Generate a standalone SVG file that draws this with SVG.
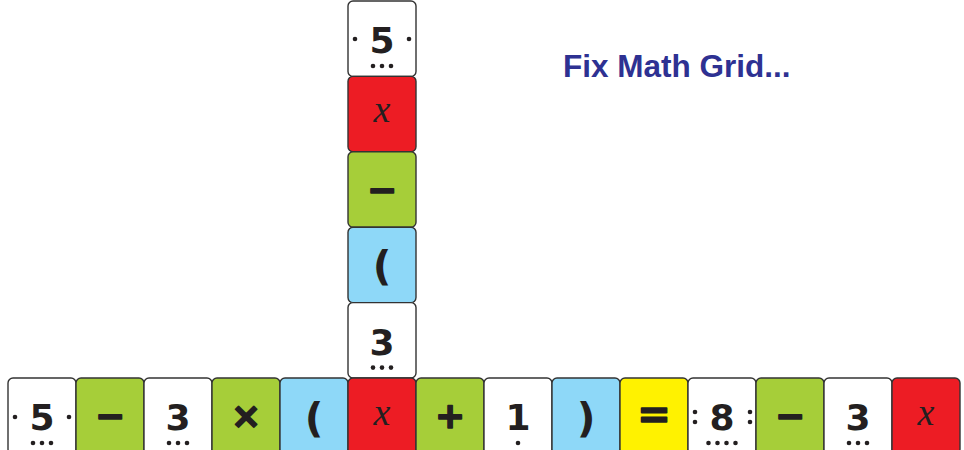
<svg xmlns="http://www.w3.org/2000/svg" width="964" height="450" viewBox="0 0 964 450">
<defs>
<style>
.t{stroke:#333;stroke-width:1.4}
.w{fill:#fff}.r{fill:#ed1c24}.g{fill:#a6ce39}.b{fill:#8ed8f8}.y{fill:#fff200}
.d{font-family:"DejaVu Sans",sans-serif;font-weight:bold;font-size:36px;fill:#231f20;text-anchor:middle}
.o{font-family:"DejaVu Sans",sans-serif;font-weight:bold;font-size:36px;fill:#231f20;stroke:#231f20;stroke-width:1.6;stroke-linejoin:round;text-anchor:middle}
.p{font-family:"DejaVu Sans",sans-serif;font-weight:bold;font-size:41px;fill:#231f20;text-anchor:middle}
.v{font-family:"Liberation Serif",serif;font-style:italic;font-size:38px;fill:#231f20;text-anchor:middle}
.k{fill:#231f20}
.title{font-family:"Liberation Sans",Arial,sans-serif;font-weight:bold;font-size:31.5px;fill:#2e3192}
</style>
</defs>
<rect width="964" height="450" fill="#fff"/>
<text class="title" x="563" y="77">Fix Math Grid...</text>

<!-- vertical column -->
<g id="col-5" transform="translate(348,1)">
<rect class="t w" x="0" y="0" width="68" height="75.4" rx="5"/>
<text class="d" x="34" y="52">5</text>
<circle class="k" cx="7" cy="38" r="2.3"/><circle class="k" cx="61" cy="38" r="2.3"/>
<circle class="k" cx="25" cy="65" r="2.3"/><circle class="k" cx="34" cy="65" r="2.3"/><circle class="k" cx="43" cy="65" r="2.3"/>
</g>
<g id="col-x" transform="translate(348,76.4)">
<rect class="t r" x="0" y="0" width="68" height="75.4" rx="5"/>
<text class="v" x="34" y="46">x</text>
</g>
<g id="col-minus" transform="translate(348,151.8)">
<rect class="t g" x="0" y="0" width="68" height="75.4" rx="5"/>
<text class="o" x="34" y="50">−</text>
</g>
<g id="col-paren" transform="translate(348,227.2)">
<rect class="t b" x="0" y="0" width="68" height="75.4" rx="5"/>
<text class="p" x="34" y="53">(</text>
</g>
<g id="col-3" transform="translate(348,302.6)">
<rect class="t w" x="0" y="0" width="68" height="75.4" rx="5"/>
<text class="d" x="34" y="52">3</text>
<circle class="k" cx="25" cy="65" r="2.3"/><circle class="k" cx="34" cy="65" r="2.3"/><circle class="k" cx="43" cy="65" r="2.3"/>
</g>

<!-- bottom row -->
<g id="row-5" transform="translate(8,378)">
<rect class="t w" x="0" y="0" width="68" height="76" rx="5"/>
<text class="d" x="34" y="52">5</text>
<circle class="k" cx="7" cy="39" r="2.3"/><circle class="k" cx="61" cy="39" r="2.3"/>
<circle class="k" cx="25" cy="65" r="2.3"/><circle class="k" cx="34" cy="65" r="2.3"/><circle class="k" cx="43" cy="65" r="2.3"/>
</g>
<g id="row-minus1" transform="translate(76,378)">
<rect class="t g" x="0" y="0" width="68" height="76" rx="5"/>
<text class="o" x="34" y="50">−</text>
</g>
<g id="row-3a" transform="translate(144,378)">
<rect class="t w" x="0" y="0" width="68" height="76" rx="5"/>
<text class="d" x="34" y="52">3</text>
<circle class="k" cx="25" cy="65" r="2.3"/><circle class="k" cx="34" cy="65" r="2.3"/><circle class="k" cx="43" cy="65" r="2.3"/>
</g>
<g id="row-times" transform="translate(212,378)">
<rect class="t g" x="0" y="0" width="68" height="76" rx="5"/>
<text class="o" x="34" y="50">×</text>
</g>
<g id="row-lparen" transform="translate(280,378)">
<rect class="t b" x="0" y="0" width="68" height="76" rx="5"/>
<text class="p" x="34" y="54">(</text>
</g>
<g id="row-x1" transform="translate(348,378)">
<rect class="t r" x="0" y="0" width="68" height="76" rx="5"/>
<text class="v" x="34" y="47">x</text>
</g>
<g id="row-plus" transform="translate(416,378)">
<rect class="t g" x="0" y="0" width="68" height="76" rx="5"/>
<text class="o" x="34" y="50">+</text>
</g>
<g id="row-1" transform="translate(484,378)">
<rect class="t w" x="0" y="0" width="68" height="76" rx="5"/>
<text class="d" x="34" y="52">1</text>
<circle class="k" cx="34" cy="65" r="2.3"/>
</g>
<g id="row-rparen" transform="translate(552,378)">
<rect class="t b" x="0" y="0" width="68" height="76" rx="5"/>
<text class="p" x="34" y="54">)</text>
</g>
<g id="row-equals" transform="translate(620,378)">
<rect class="t y" x="0" y="0" width="68" height="76" rx="5"/>
<text class="o" x="34" y="50" style="font-size:40px">=</text>
</g>
<g id="row-8" transform="translate(688,378)">
<rect class="t w" x="0" y="0" width="68" height="76" rx="5"/>
<text class="d" x="34" y="52">8</text>
<circle class="k" cx="7" cy="34" r="2.3"/><circle class="k" cx="7" cy="44" r="2.3"/>
<circle class="k" cx="62" cy="34" r="2.3"/><circle class="k" cx="62" cy="44" r="2.3"/>
<circle class="k" cx="20.5" cy="65" r="2.3"/><circle class="k" cx="29.5" cy="65" r="2.3"/><circle class="k" cx="38.5" cy="65" r="2.3"/><circle class="k" cx="47.5" cy="65" r="2.3"/>
</g>
<g id="row-minus2" transform="translate(756,378)">
<rect class="t g" x="0" y="0" width="68" height="76" rx="5"/>
<text class="o" x="34" y="50">−</text>
</g>
<g id="row-3b" transform="translate(824,378)">
<rect class="t w" x="0" y="0" width="68" height="76" rx="5"/>
<text class="d" x="34" y="52">3</text>
<circle class="k" cx="25" cy="65" r="2.3"/><circle class="k" cx="34" cy="65" r="2.3"/><circle class="k" cx="43" cy="65" r="2.3"/>
</g>
<g id="row-x2" transform="translate(892,378)">
<rect class="t r" x="0" y="0" width="68" height="76" rx="5"/>
<text class="v" x="34" y="47">x</text>
</g>
<g id="connectors"/>
</svg>
